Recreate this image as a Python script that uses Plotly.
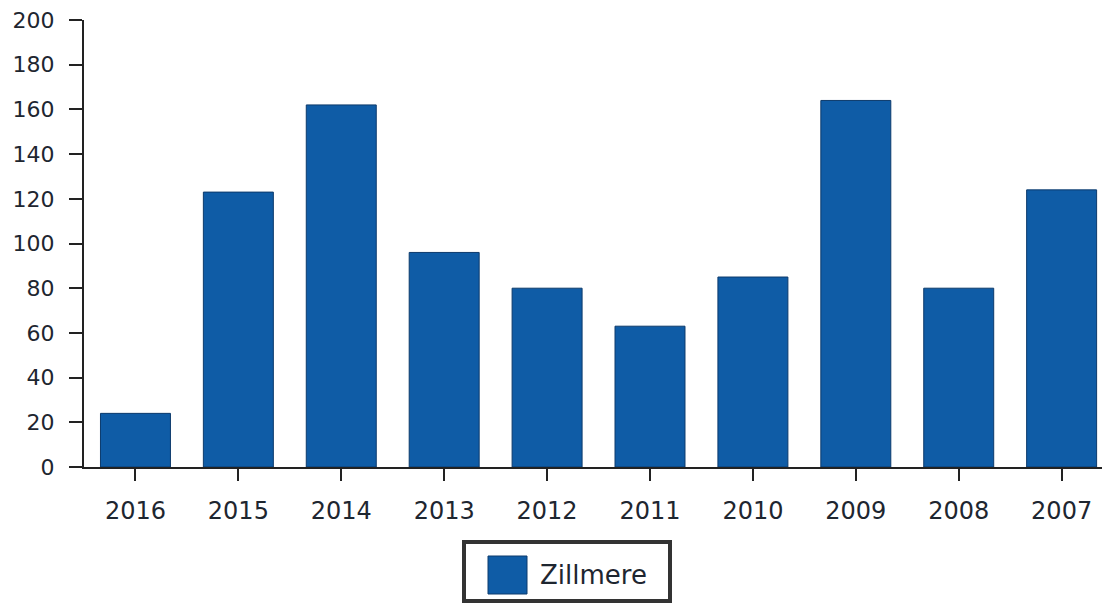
import plotly.graph_objects as go

years = ["2016", "2015", "2014", "2013", "2012", "2011", "2010", "2009", "2008", "2007"]
zillmere = [24, 123, 162, 96, 80, 63, 85, 164, 80, 124]
series_name = "Zillmere"
y_ticks = [0, 20, 40, 60, 80, 100, 120, 140, 160, 180, 200]

# The page body adds an 8px offset; layout is given in figure pixels.
OFF = 8
W, H = 1110 - OFF, 605 - OFF
ML, MR, MT, MB = 84 - OFF, 0, 20 - OFF, 138
PW = W - ML - MR
PH = H - MT - MB


def px(x):
    # x in screen pixels -> paper
    return (x - OFF - ML) / PW


def py(y):
    # y in screen pixels -> paper
    return (H - MB - (y - OFF)) / PH


bar_color = "#0f5ca6"
text_color = "#1e2630"
axis_color = "#222222"
font_family = "DejaVu Sans, Verdana, sans-serif"

fig = go.Figure()
fig.add_trace(go.Bar(
    x=years, y=zillmere, name=series_name,
    marker=dict(color=bar_color, line=dict(color="#0c3a6c", width=1)),
    showlegend=False,
))

fig.update_layout(
    width=W, height=H,
    margin=dict(l=ML, r=MR, t=MT, b=MB, pad=0),
    paper_bgcolor="white", plot_bgcolor="white",
    bargap=0.32,
    font=dict(family=font_family, color=text_color),
    showlegend=False,
)
fig.update_xaxes(
    type="category", range=[-0.5, 9.47],
    showline=True, linewidth=2, linecolor=axis_color,
    ticks="outside", ticklen=12, tickwidth=2, tickcolor=axis_color,
    tickfont=dict(size=24, color=text_color),
    ticklabelstandoff=9,
    ticklabeloverflow="allow",
    showgrid=False, zeroline=False,
)
fig.update_yaxes(
    range=[0, 200], tickvals=y_ticks,
    showline=True, linewidth=2, linecolor=axis_color,
    ticks="outside", ticklen=13, tickwidth=2, tickcolor=axis_color,
    tickfont=dict(size=22, color=text_color),
    ticklabelstandoff=10,
    ticklabeloverflow="allow",
    showgrid=False, zeroline=False,
)

# Legend drawn as a framed box
fig.add_shape(type="rect", xref="paper", yref="paper",
              x0=px(464), x1=px(670), y0=py(542), y1=py(601),
              line=dict(color="#333333", width=4), fillcolor="white")
fig.add_shape(type="rect", xref="paper", yref="paper",
              x0=px(488), x1=px(527), y0=py(556), y1=py(594),
              line=dict(color="#0c3a6c", width=1), fillcolor=bar_color)
fig.add_annotation(xref="paper", yref="paper", x=px(538), y=py(575),
                   text=series_name, showarrow=False, xanchor="left", yanchor="middle",
                   font=dict(size=26, color=text_color, family=font_family))

fig.write_html("out.html")
